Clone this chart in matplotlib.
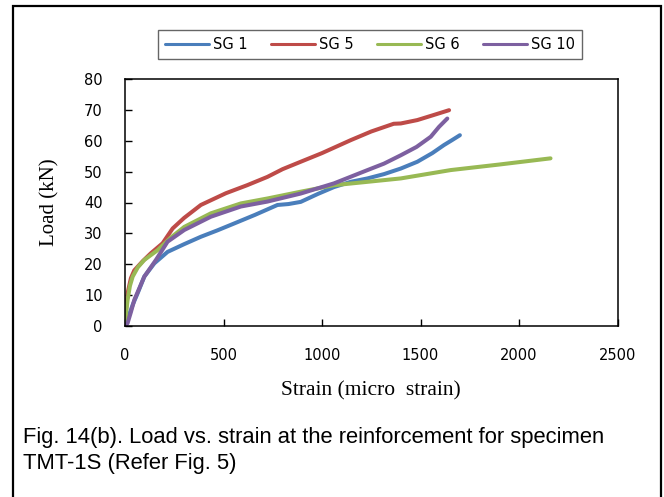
import matplotlib
matplotlib.use('Agg')
import matplotlib.pyplot as plt
from matplotlib.patches import Rectangle

# ── data (strain in micro strain, load in kN) ──
sg1_strain = [0, 20, 40, 64, 98, 149, 216, 300, 385, 470, 554, 660, 774, 830,
              892, 980, 1061, 1146, 1231, 1315, 1400, 1484, 1560, 1619, 1660, 1700]
sg1_load = [0, 3.5, 7, 10.6, 16, 20.3, 24, 26.5, 28.9, 31, 33.2, 36, 39.2, 39.5,
            40.2, 42.8, 45, 46.7, 47.8, 49.2, 51, 53.2, 56, 58.6, 60.2, 61.8]

sg5_strain = [0, 5, 13, 30, 47, 90, 132, 191, 242, 300, 385, 512, 620, 723, 800,
              892, 1000, 1146, 1250, 1364, 1400, 1484, 1560, 1645]
sg5_load = [0, 5, 10.6, 15.5, 18, 21, 23.6, 26.8, 31.6, 35, 39.2, 43, 45.6, 48.3,
            50.8, 53.2, 56, 60.2, 63, 65.5, 65.6, 66.7, 68.2, 69.9]

sg6_strain = [0, 5, 13, 25, 39, 65, 98, 166, 230, 301, 436, 588, 723, 892, 1061,
              1231, 1400, 1653, 1900, 2160]
sg6_load = [0, 4, 8.4, 13, 16, 19, 21.4, 24.6, 28.5, 32.1, 36.5, 39.7, 41.3, 43.5,
            45.6, 46.7, 47.8, 50.5, 52.3, 54.3]

sg10_strain = [0, 13, 30, 47, 98, 157, 216, 301, 436, 588, 723, 892, 1061, 1231,
               1315, 1400, 1480, 1552, 1594, 1636]
sg10_load = [0, 0.9, 4.5, 8.4, 16, 21.4, 27.3, 31.1, 35.4, 38.7, 40.3, 42.9, 46.2,
             50.5, 52.6, 55.3, 58, 61.3, 64.5, 67.2]

series = [
    ('SG 1', sg1_strain, sg1_load, '#4A7EBB'),
    ('SG 5', sg5_strain, sg5_load, '#BE4B48'),
    ('SG 6', sg6_strain, sg6_load, '#98B954'),
    ('SG 10', sg10_strain, sg10_load, '#7D60A0'),
]

W, H = 664, 497
fig = plt.figure(figsize=(W / 100, H / 100), dpi=100)

# outer frame around chart + caption
fig.patches.append(Rectangle((13 / W, -0.05), (661 - 13) / W, 1.05 - 5.5 / H,
                             transform=fig.transFigure, fill=False,
                             edgecolor='black', linewidth=1.6))

ax = fig.add_axes([125 / W, 1 - 326 / H, (617.5 - 125) / W, (326 - 79) / H])

for name, x, y, c in series:
    ax.plot(x, y, color=c, linewidth=2.9, label=name, solid_capstyle='round')

ax.set_xlim(0, 2500)
ax.set_ylim(0, 80)
ax.set_xticks(range(0, 2501, 500))
ax.set_yticks(range(0, 81, 10))
for s in ax.spines.values():
    s.set_linewidth(1.1)
    s.set_color('black')
ax.tick_params(axis='both', direction='in', length=5, width=1.0,
               labelsize=10.5)
ax.tick_params(axis='x', pad=16)
ax.tick_params(axis='y', pad=16)
for lab in ax.get_xticklabels() + ax.get_yticklabels():
    lab.set_family('DejaVu Sans')

ax.set_xlabel('Strain (micro  strain)', family='Liberation Serif', fontsize=15.5,
              labelpad=13)
ax.set_ylabel('Load (kN)', family='Liberation Serif', fontsize=15, labelpad=18)

leg = fig.legend(loc='center', bbox_to_anchor=(370 / W, 1 - 44.3 / H), ncol=4,
                 frameon=True, fancybox=False, handlelength=3.0,
                 handletextpad=0.3, columnspacing=1.6, borderpad=0.5,
                 prop={'family': 'DejaVu Sans', 'size': 10.5})
leg.get_frame().set_edgecolor('#404040')
leg.get_frame().set_linewidth(1.0)
for h in leg.get_lines():
    h.set_linewidth(2.2)

caption = ['Fig. 14(b). Load vs. strain at the reinforcement for specimen',
           'TMT-1S (Refer Fig. 5)']
for i, line in enumerate(caption):
    fig.text(23 / W, 1 - (438 + 25 * i) / H, line, family='Liberation Sans',
             fontsize=15.8, va='center', ha='left')

fig.savefig('out.png', dpi=100)
